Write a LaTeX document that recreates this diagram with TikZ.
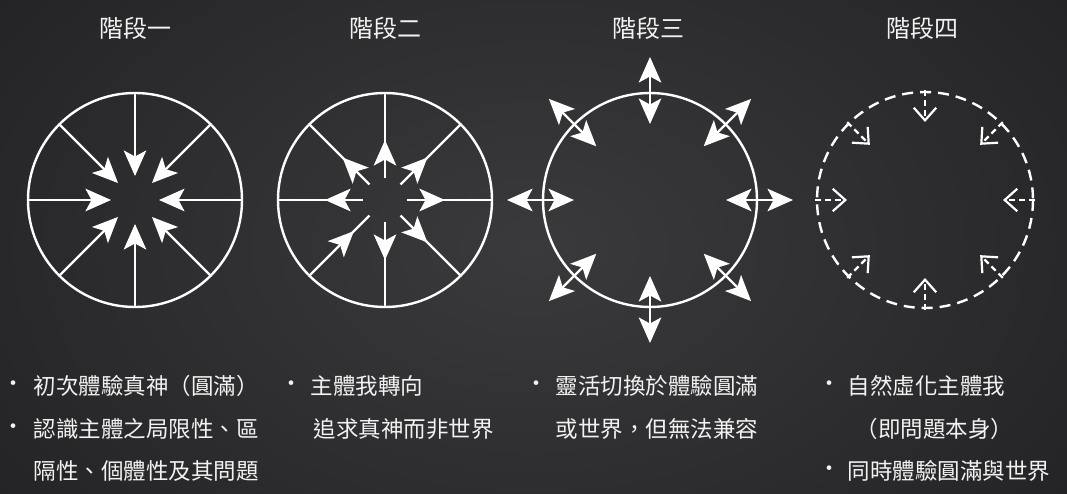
\documentclass[tikz,border=0pt]{standalone}
\usepackage{fontspec}
\newfontfamily\cjk{Noto Sans CJK TC}
\usetikzlibrary{arrows.meta}
\definecolor{bgout}{HTML}{1E1E20}
\definecolor{bgin}{HTML}{3A3A3D}
\definecolor{txt}{HTML}{F2F2F2}
\tikzset{x=1pt,y=-1pt,
 ring/.style={draw=white,line width=2.4pt},
 spoke/.style={draw=white,line width=2.4pt},
 tip/.style={-{Stealth[length=17pt,width=15pt,inset=4pt,scale=1.5]}},
 dtip/.style={{Stealth[length=17pt,width=15pt,inset=4pt,scale=1.5]}-{Stealth[length=17pt,width=15pt,inset=4pt,scale=1.5]}},
 otip/.style={-{Straight Barb[length=9pt,width=16pt,line width=2.2pt,scale=1.4]}},
 title/.style={text=txt,font=\cjk\fontsize{24}{28}\selectfont,anchor=center},
 body/.style={text=txt,font=\cjk\fontsize{22.5}{26}\selectfont,anchor=west},
 bul/.style={text=txt,font=\cjk\fontsize{22}{26}\selectfont,anchor=center},
}
\begin{document}
\begin{tikzpicture}
\useasboundingbox (0,0) rectangle (1067,494);
\shade[inner color=bgin,outer color=bgout] (-300,-300) rectangle (1367,794);
% titles
\node[title] (t1) at (135,28) {階段一};
\node[title] (t2) at (385,28) {階段二};
\node[title] (t3) at (648,28) {階段三};
\node[title] (t4) at (922,28) {階段四};
% stage 1
\begin{scope}[shift={(135,200)}]
\coordinate (c1) at (0,0);
\draw[ring] (c1) circle (107);
\foreach \a in {0,45,...,315}{\draw[spoke,tip] (\a:107) -- (\a:24);}
\end{scope}
% stage 2
\begin{scope}[shift={(385,200)}]
\coordinate (c2) at (0,0);
\draw[ring] (c2) circle (107);
\foreach \a in {0,45,90,180,225,270,315}{
 \draw[spoke,tip] (\a:22) -- (\a:60);
 \draw[spoke] (\a:50) -- (\a:107);}
\draw[spoke,tip] (135:107) -- (135:44);
\draw[spoke] (135:52) -- (135:22);
\end{scope}
% stage 3
\begin{scope}[shift={(650,200)}]
\coordinate (c3) at (0,0);
\draw[ring] (c3) circle (107);
\foreach \a in {0,45,...,315}{\draw[spoke,dtip] (\a:76) -- (\a:143);}
\end{scope}
% stage 4
\begin{scope}[shift={(925,200)}]
\coordinate (c4) at (0,0);
\draw[ring,dash pattern=on 11pt off 7pt] (c4) circle (108);
\foreach \a in {0,45,...,315}{\draw[white,line width=2.2pt,dash pattern=on 6pt off 4pt,otip] (\a:110) -- (\a:78);}
\end{scope}
% texts
\node[bul] (b1) at (13,386) {•};
\node[body] (l1) at (30,386) {初次體驗真神（圓滿）};
\node[bul] (b2) at (13,429) {•};
\node[body] (l2) at (30,429) {認識主體之局限性、區};
\node[body] (l3) at (30,471) {隔性、個體性及其問題};
\node[bul] (b3) at (291,386) {•};
\node[body] (l4) at (307,386) {主體我轉向};
\node[body] (l5) at (310,429) {追求真神而非世界};
\node[bul] (b4) at (536,386) {•};
\node[body] (l6) at (552,386) {靈活切換於體驗圓滿};
\node[body] (l7) at (552,429) {或世界，但無法兼容};
\node[bul] (b5) at (829,386) {•};
\node[body] (l8) at (844,386) {自然虛化主體我};
\node[body] (l9) at (852,429) {（即問題本身）};
\node[bul] (b6) at (829,471) {•};
\node[body] (l10) at (844,471) {同時體驗圓滿與世界};
\end{tikzpicture}
\end{document}
